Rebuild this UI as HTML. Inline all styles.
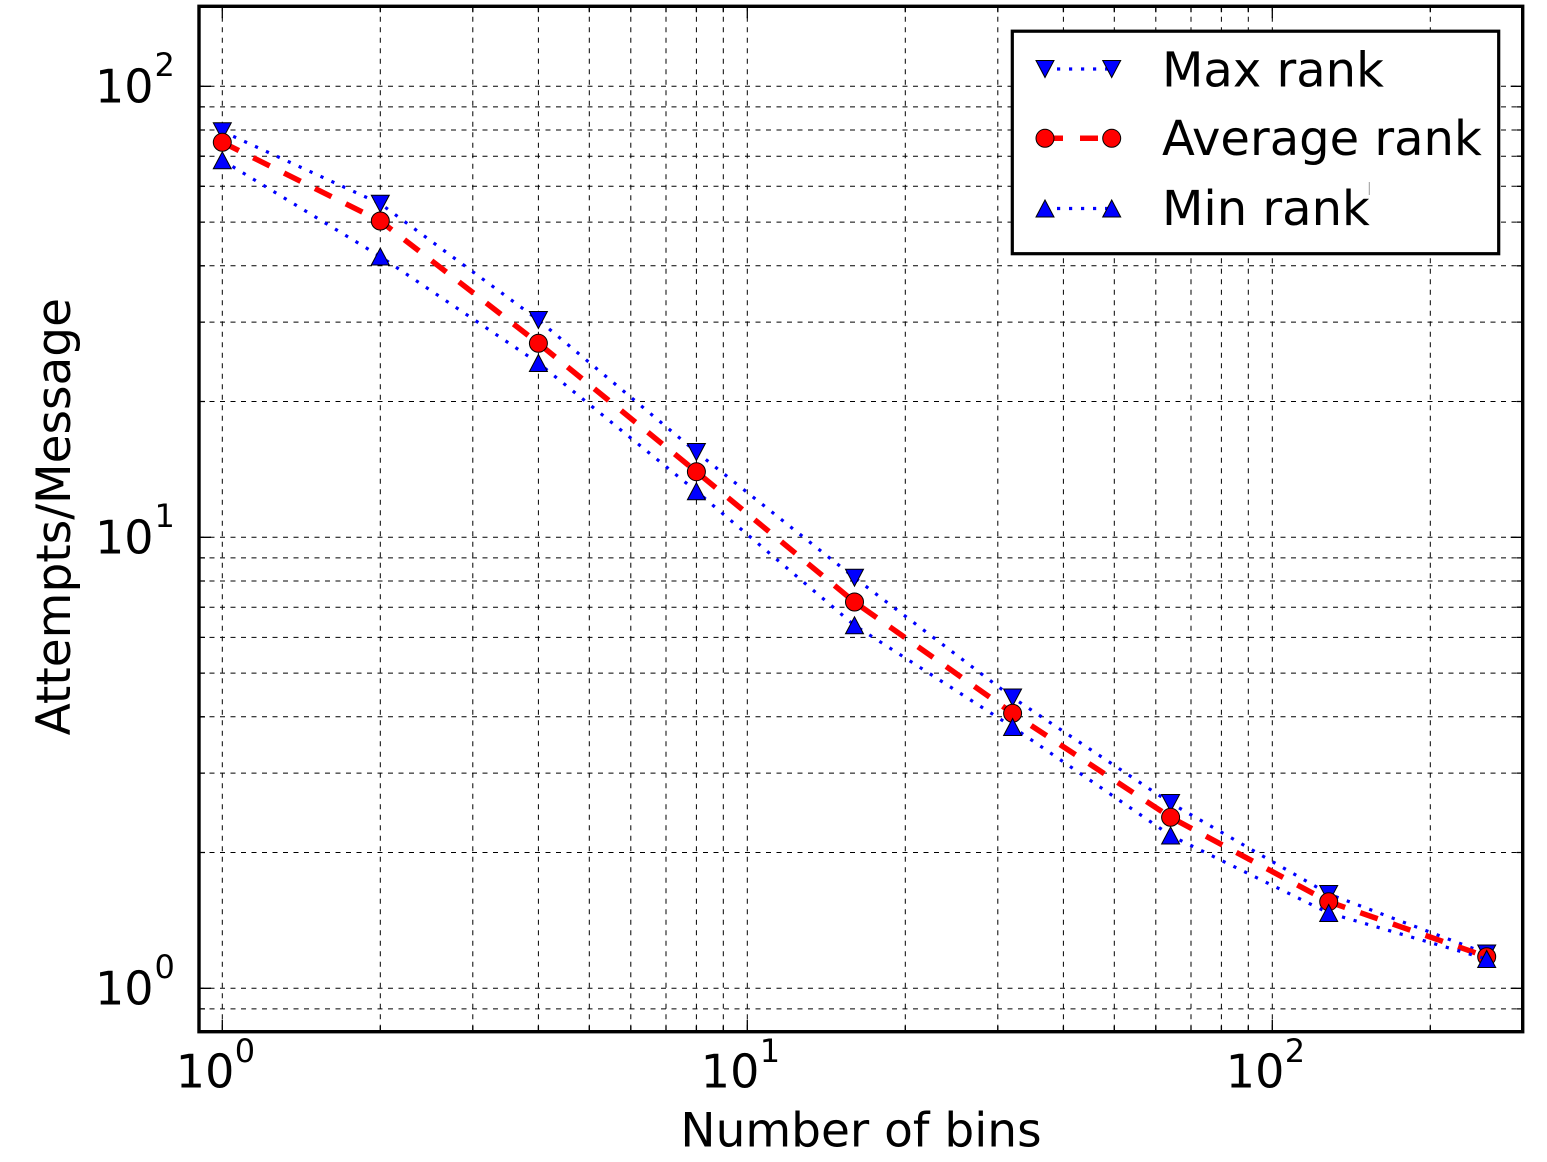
<!DOCTYPE html>
<html>
<head>
<meta charset="utf-8">
<style>
  html, body { margin: 0; padding: 0; background: #ffffff; }
  svg { display: block; }
  text { font-family: "DejaVu Sans", "Liberation Sans", sans-serif; fill: #000; }
</style>
</head>
<body>
<svg width="1547" height="1162" viewBox="0 0 1547 1162" xmlns="http://www.w3.org/2000/svg">
  <defs>
    <path id="tdown" d="M-9,-8.5 L9,-8.5 L0,8.5 Z" fill="#0000ff" stroke="#000" stroke-width="1"/>
    <path id="tup" d="M-9,8.5 L9,8.5 L0,-8.5 Z" fill="#0000ff" stroke="#000" stroke-width="1"/>
    <circle id="circ" cx="0" cy="0" r="9" fill="#ff0000" stroke="#000" stroke-width="1"/>
  </defs>

  <rect x="0" y="0" width="1547" height="1162" fill="#ffffff"/>

  <!-- Grid -->
  <g stroke="#000" stroke-width="1" stroke-dasharray="5 5.5" fill="none">
    <path d="
      M222.3,6.3V1031.7 M380.3,6.3V1031.7 M472.8,6.3V1031.7 M538.4,6.3V1031.7 M589.3,6.3V1031.7
      M630.8,6.3V1031.7 M666.0,6.3V1031.7 M696.4,6.3V1031.7 M723.3,6.3V1031.7 M747.3,6.3V1031.7
      M905.3,6.3V1031.7 M997.8,6.3V1031.7 M1063.4,6.3V1031.7 M1114.3,6.3V1031.7 M1155.8,6.3V1031.7
      M1191.0,6.3V1031.7 M1221.4,6.3V1031.7 M1248.3,6.3V1031.7 M1272.3,6.3V1031.7 M1430.3,6.3V1031.7"/>
    <path d="
      M199,1008.9H1522.7 M199,988.3H1522.7 M199,852.5H1522.7 M199,773.1H1522.7 M199,716.8H1522.7
      M199,673.1H1522.7 M199,637.4H1522.7 M199,607.2H1522.7 M199,581.0H1522.7 M199,557.9H1522.7
      M199,537.3H1522.7 M199,401.5H1522.7 M199,322.1H1522.7 M199,265.8H1522.7 M199,222.1H1522.7
      M199,186.3H1522.7 M199,156.2H1522.7 M199,130.0H1522.7 M199,106.9H1522.7 M199,86.3H1522.7"/>
  </g>

  <!-- Ticks -->
  <g stroke="#000" stroke-width="1.3" fill="none">
    <path d="M222.3,1031.7V1019.7 M747.3,1031.7V1019.7 M1272.3,1031.7V1019.7
             M222.3,6.3V18.3 M747.3,6.3V18.3 M1272.3,6.3V18.3"/>
    <path d="M380.3,1031.7v-6 M472.8,1031.7v-6 M538.4,1031.7v-6 M589.3,1031.7v-6 M630.8,1031.7v-6
             M666.0,1031.7v-6 M696.4,1031.7v-6 M723.3,1031.7v-6 M905.3,1031.7v-6 M997.8,1031.7v-6
             M1063.4,1031.7v-6 M1114.3,1031.7v-6 M1155.8,1031.7v-6 M1191.0,1031.7v-6 M1221.4,1031.7v-6
             M1248.3,1031.7v-6 M1430.3,1031.7v-6"/>
    <path d="M380.3,6.3v6 M472.8,6.3v6 M538.4,6.3v6 M589.3,6.3v6 M630.8,6.3v6
             M666.0,6.3v6 M696.4,6.3v6 M723.3,6.3v6 M905.3,6.3v6 M997.8,6.3v6
             M1063.4,6.3v6 M1114.3,6.3v6 M1155.8,6.3v6 M1191.0,6.3v6 M1221.4,6.3v6
             M1248.3,6.3v6 M1430.3,6.3v6"/>
    <path d="M199,988.3H211 M199,537.3H211 M199,86.3H211
             M1522.7,988.3H1510.7 M1522.7,537.3H1510.7 M1522.7,86.3H1510.7"/>
    <path d="M199,1008.9h6 M199,852.5h6 M199,773.1h6 M199,716.8h6 M199,673.1h6 M199,637.4h6
             M199,607.2h6 M199,581.0h6 M199,557.9h6 M199,401.5h6 M199,322.1h6 M199,265.8h6
             M199,222.1h6 M199,186.3h6 M199,156.2h6 M199,130.0h6 M199,106.9h6"/>
    <path d="M1522.7,1008.9h-6 M1522.7,852.5h-6 M1522.7,773.1h-6 M1522.7,716.8h-6 M1522.7,673.1h-6 M1522.7,637.4h-6
             M1522.7,607.2h-6 M1522.7,581.0h-6 M1522.7,557.9h-6 M1522.7,401.5h-6 M1522.7,322.1h-6 M1522.7,265.8h-6
             M1522.7,222.1h-6 M1522.7,186.3h-6 M1522.7,156.2h-6 M1522.7,130.0h-6 M1522.7,106.9h-6"/>
  </g>

  <!-- Series: Max rank -->
  <polyline fill="none" stroke="#0000ff" stroke-width="3.2" stroke-dasharray="3.2 8.8" stroke-linecap="butt"
    points="222.3,131.3 380.3,203.7 538.4,320 696.4,452 854.5,577.7 1012.6,697.5 1170.6,803 1328.7,894 1486.7,953.5"/>
  <g>
    <use href="#tdown" x="222.3" y="131.3"/>
    <use href="#tdown" x="380.3" y="203.7"/>
    <use href="#tdown" x="538.4" y="320"/>
    <use href="#tdown" x="696.4" y="452"/>
    <use href="#tdown" x="854.5" y="577.7"/>
    <use href="#tdown" x="1012.6" y="697.5"/>
    <use href="#tdown" x="1170.6" y="803"/>
    <use href="#tdown" x="1328.7" y="894"/>
    <use href="#tdown" x="1486.7" y="953.5"/>
  </g>

  <!-- Series: Average rank -->
  <polyline fill="none" stroke="#ff0000" stroke-width="5.5" stroke-dasharray="18.5 16" stroke-linecap="butt"
    points="222.3,142.3 380.3,221 538.4,343.3 696.4,471.7 854.5,602 1012.6,713.3 1170.6,817.3 1328.7,901.7 1486.7,956.7"/>
  <g>
    <use href="#circ" x="222.3" y="142.3"/>
    <use href="#circ" x="380.3" y="221"/>
    <use href="#circ" x="538.4" y="343.3"/>
    <use href="#circ" x="696.4" y="471.7"/>
    <use href="#circ" x="854.5" y="602"/>
    <use href="#circ" x="1012.6" y="713.3"/>
    <use href="#circ" x="1170.6" y="817.3"/>
    <use href="#circ" x="1328.7" y="901.7"/>
    <use href="#circ" x="1486.7" y="956.7"/>
  </g>

  <!-- Series: Min rank -->
  <polyline fill="none" stroke="#0000ff" stroke-width="3.2" stroke-dasharray="3.2 8.8" stroke-linecap="butt"
    points="222.3,160.3 380.3,256.5 538.4,363 696.4,491.3 854.5,625.3 1012.6,727 1170.6,835.5 1328.7,913 1486.7,959"/>
  <g>
    <use href="#tup" x="222.3" y="160.3"/>
    <use href="#tup" x="380.3" y="256.5"/>
    <use href="#tup" x="538.4" y="363"/>
    <use href="#tup" x="696.4" y="491.3"/>
    <use href="#tup" x="854.5" y="625.3"/>
    <use href="#tup" x="1012.6" y="727"/>
    <use href="#tup" x="1170.6" y="835.5"/>
    <use href="#tup" x="1328.7" y="913"/>
    <use href="#tup" x="1486.7" y="959"/>
  </g>

  <!-- Spines -->
  <rect x="199" y="6.3" width="1323.7" height="1025.4" fill="none" stroke="#000" stroke-width="3.4"/>

  <!-- Legend -->
  <rect x="1012.3" y="31.2" width="486.4" height="222.5" fill="#ffffff" stroke="#000" stroke-width="3.2"/>
  <line x1="1045" y1="69" x2="1111.7" y2="69" stroke="#0000ff" stroke-width="3.2" stroke-dasharray="3.2 8.8"/>
  <use href="#tdown" x="1045" y="69"/>
  <use href="#tdown" x="1111.7" y="69"/>
  <line x1="1045" y1="138.3" x2="1111.7" y2="138.3" stroke="#ff0000" stroke-width="5.5" stroke-dasharray="18 17"/>
  <use href="#circ" x="1045" y="138.3"/>
  <use href="#circ" x="1111.7" y="138.3"/>
  <line x1="1045" y1="208.5" x2="1111.7" y2="208.5" stroke="#0000ff" stroke-width="3.2" stroke-dasharray="3.2 8.8"/>
  <use href="#tup" x="1045" y="208.5"/>
  <use href="#tup" x="1111.7" y="208.5"/>
  <text x="1162" y="86.7" font-size="48">Max rank</text>
  <text x="1162" y="155" font-size="48">Average rank</text>
  <text x="1162" y="225" font-size="48">Min rank</text>
  <line x1="1369.3" y1="182" x2="1369.3" y2="195" stroke="#999" stroke-width="1"/>

  <!-- Y tick labels -->
  <text x="95" y="1004.3" font-size="46">10</text>
  <text x="154.5" y="978" font-size="32">0</text>
  <text x="95" y="553.3" font-size="46">10</text>
  <text x="154.5" y="527" font-size="32">1</text>
  <text x="95" y="102.3" font-size="46">10</text>
  <text x="154.5" y="76" font-size="32">2</text>

  <!-- X tick labels -->
  <text x="175.8" y="1087.5" font-size="46">10</text>
  <text x="234.8" y="1062" font-size="32">0</text>
  <text x="700.8" y="1087.5" font-size="46">10</text>
  <text x="759.8" y="1062" font-size="32">1</text>
  <text x="1225.8" y="1087.5" font-size="46">10</text>
  <text x="1284.8" y="1062" font-size="32">2</text>

  <!-- Axis labels -->
  <text x="861" y="1146.7" font-size="47" text-anchor="middle">Number of bins</text>
  <text transform="translate(70,516.7) rotate(-90)" x="0" y="0" font-size="47" text-anchor="middle">Attempts/Message</text>
</svg>
</body>
</html>
